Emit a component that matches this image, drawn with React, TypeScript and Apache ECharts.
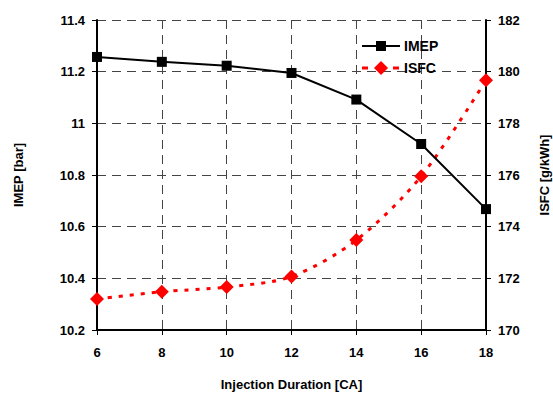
import React, { useEffect, useRef } from "react";
import * as echarts from "echarts";

const injectionDuration = [6, 8, 10, 12, 14, 16, 18];
const imep = [11.257, 11.238, 11.223, 11.195, 11.092, 10.92, 10.668];
const isfc = [171.2, 171.48, 171.66, 172.07, 173.48, 175.95, 179.67];
const seriesNames = ["IMEP", "ISFC"];

const FONT = "'Liberation Sans', Arial, sans-serif";

export default function App() {
  const ref = useRef<HTMLDivElement>(null);
  useEffect(() => {
    if (!ref.current) return;
    const chart = echarts.init(ref.current, undefined, { renderer: "svg" });
    const gridLine = { show: true, lineStyle: { color: "#444", width: 1, type: [9, 6] as any } };
    const axisLabel = { color: "#000", fontFamily: FONT, fontWeight: "bold" as const, fontSize: 13 };
    const nameStyle = { color: "#000", fontFamily: FONT, fontWeight: "bold" as const, fontSize: 13 };
    const legendText = { fill: "#000", font: `bold 14px ${FONT}`, textVerticalAlign: "middle" as const };
    chart.setOption({
      animation: false,
      backgroundColor: "#fff",
      grid: { left: 97, right: 67, top: 20, bottom: 64, outerBoundsMode: "none", containLabel: false },
      graphic: [
        { type: "line", shape: { x1: 362, y1: 46, x2: 400, y2: 46 }, style: { stroke: "#000", lineWidth: 2 }, z: 10 },
        { type: "rect", shape: { x: 376, y: 41, width: 10, height: 10 }, style: { fill: "#000" }, z: 10 },
        { type: "text", x: 404, y: 46, style: { ...legendText, text: seriesNames[0] }, z: 10 },
        { type: "line", shape: { x1: 362, y1: 68, x2: 368, y2: 68 }, style: { stroke: "#ff0000", lineWidth: 3 }, z: 10 },
        { type: "line", shape: { x1: 393, y1: 68, x2: 399, y2: 68 }, style: { stroke: "#ff0000", lineWidth: 3 }, z: 10 },
        { type: "polygon", shape: { points: [[381, 61], [388, 68], [381, 75], [374, 68]] }, style: { fill: "#ff0000" }, z: 10 },
        { type: "text", x: 404, y: 68, style: { ...legendText, text: seriesNames[1] }, z: 10 },
      ],
      xAxis: {
        type: "value",
        min: 6,
        max: 18,
        interval: 2,
        name: "Injection Duration [CA]",
        nameLocation: "middle",
        nameGap: 48,
        nameTextStyle: nameStyle,
        axisLine: { show: true, lineStyle: { color: "#000", width: 2 } },
        axisTick: { show: true, length: 5, lineStyle: { color: "#000" } },
        axisLabel: { ...axisLabel, margin: 16 },
        splitLine: gridLine,
      },
      yAxis: [
        {
          type: "value",
          min: 10.2,
          max: 11.4,
          interval: 0.2,
          position: "left",
          name: "IMEP [bar]",
          nameLocation: "middle",
          nameRotate: 90,
          nameGap: 72,
          nameTextStyle: nameStyle,
          axisLine: { show: true, lineStyle: { color: "#000", width: 2 } },
          axisTick: { show: true, length: 5, lineStyle: { color: "#000" } },
          axisLabel: { ...axisLabel, margin: 12, formatter: (v: number) => String(Math.round(v * 10) / 10) },
          splitLine: gridLine,
        },
        {
          type: "value",
          min: 170,
          max: 182,
          interval: 2,
          position: "right",
          name: "ISFC [g/kWh]",
          nameLocation: "middle",
          nameRotate: 90,
          nameGap: 52,
          nameTextStyle: nameStyle,
          axisLine: { show: true, lineStyle: { color: "#000", width: 2 } },
          axisTick: { show: true, length: 5, lineStyle: { color: "#000" } },
          axisLabel: { ...axisLabel, margin: 12 },
          splitLine: { show: false },
        },
      ],
      series: [
        {
          name: seriesNames[0],
          type: "line",
          yAxisIndex: 0,
          data: injectionDuration.map((x, i) => [x, imep[i]]),
          symbol: "rect",
          symbolSize: 10,
          itemStyle: { color: "#000" },
          lineStyle: { color: "#000", width: 2 },
          z: 3,
        },
        {
          name: seriesNames[1],
          type: "line",
          yAxisIndex: 1,
          smooth: 0.3,
          data: injectionDuration.map((x, i) => [x, isfc[i]]),
          symbol: "diamond",
          symbolSize: 14,
          itemStyle: { color: "#ff0000" },
          lineStyle: { color: "#ff0000", width: 3, type: [4, 7] as any },
          z: 2,
        },
      ],
    });
    return () => chart.dispose();
  }, []);
  return <div ref={ref} style={{ position: "fixed", left: 0, top: 0, width: 553, height: 394 }} />;
}
